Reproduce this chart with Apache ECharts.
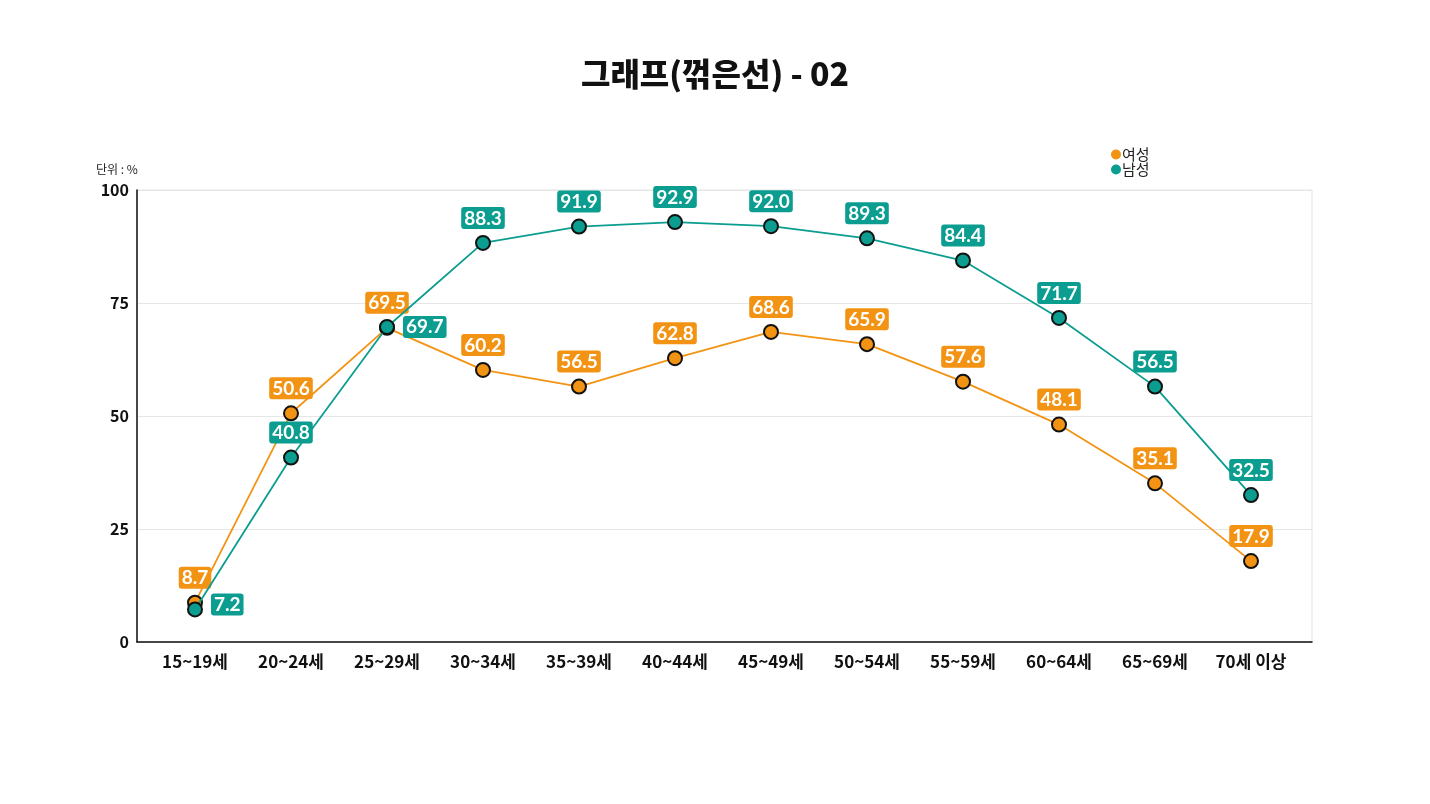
<!DOCTYPE html>
<html><head><meta charset="utf-8">
<script src="https://cdn.jsdelivr.net/npm/echarts@6/dist/echarts.min.js"></script>
<style>html,body{margin:0;padding:0;background:#fff}#c{width:1430px;height:804px}</style>
</head><body><div id="c"></div>
<script>
const categories = ['15~19세','20~24세','25~29세','30~34세','35~39세','40~44세','45~49세','50~54세','55~59세','60~64세','65~69세','70세 이상'];
const female = [8.7, 50.6, 69.5, 60.2, 56.5, 62.8, 68.6, 65.9, 57.6, 48.1, 35.1, 17.9];
const male = [7.2, 40.8, 69.7, 88.3, 91.9, 92.9, 92.0, 89.3, 84.4, 71.7, 56.5, 32.5];
const seriesNames = ['여성','남성'];
const yTicks = [0, 25, 50, 75, 100];

const ORANGE = '#F39313';
const TEAL = '#0A9D90';
const KR = '"Noto Sans CJK KR", "Noto Sans", sans-serif';
const NUM = 'Lato, "Noto Sans", sans-serif';

function labelFor(color) {
  return {
    show: true, position: 'top', distance: 6,
    color: '#fff', fontFamily: NUM, fontWeight: 'bold', fontSize: 19,
    backgroundColor: color, borderRadius: 3, padding: [2, 3, 1, 3],
    formatter: p => p.value.toFixed(1)
  };
}
const maleData = male.map((v, i) => {
  const d = { value: v };
  if (i === 0) d.label = { position: 'right', distance: 8, offset: [0, -5] };
  if (i === 2) d.label = { position: 'right', distance: 8 };
  return d;
});

const chart = echarts.init(document.getElementById('c'));
chart.setOption({
  animation: false,
  title: {
    text: '그래프(꺾은선) - 02', left: 'center', top: 53,
    textStyle: { fontFamily: KR, fontWeight: 900, fontSize: 32, color: '#111' }
  },
  graphic: [{
    type: 'text', left: 96, top: 163,
    style: { text: '단위 : %', font: '12px ' + KR, fill: '#222' }
  }],
  legend: {
    data: seriesNames, orient: 'vertical', left: 1106, top: 142, itemGap: 0,
    icon: 'circle', itemWidth: 10, itemHeight: 10,
    itemStyle: { borderWidth: 0 },
    textStyle: { fontFamily: KR, fontSize: 15, color: '#222', padding: [0, 0, 0, -4] }
  },
  grid: [
    { left: 137, right: 118, top: 190, bottom: 162, show: true, borderColor: '#e2e2e2', borderWidth: 1, backgroundColor: 'transparent' },
    { left: 147, width: 1152, top: 190, bottom: 162 }
  ],
  xAxis: [
    { type: 'category', gridIndex: 0, data: categories, axisLine: { lineStyle: { color: '#111', width: 1.5 } },
      axisTick: { show: false }, axisLabel: { show: false } },
    { type: 'category', gridIndex: 1, data: categories, boundaryGap: true,
      axisLine: { show: false }, axisTick: { show: false },
      axisLabel: { margin: 11, fontFamily: KR, fontWeight: 'bold', fontSize: 17, color: '#111' } }
  ],
  yAxis: [
    { type: 'value', gridIndex: 0, min: 0, max: 100, interval: 25,
      axisLine: { show: true, lineStyle: { color: '#111', width: 1.5 } }, axisTick: { show: false },
      splitLine: { lineStyle: { color: '#e6e6e6' } },
      axisLabel: { margin: 8, fontFamily: KR, fontWeight: 'bold', fontSize: 16, color: '#111',
        formatter: v => yTicks.includes(v) ? String(v) : '' } },
    { type: 'value', gridIndex: 1, min: 0, max: 100, interval: 25, show: false }
  ],
  series: [
    { name: seriesNames[0], type: 'line', xAxisIndex: 1, yAxisIndex: 1, data: female,
      color: ORANGE, lineStyle: { color: ORANGE, width: 1.8 },
      symbol: 'circle', symbolSize: 14,
      itemStyle: { color: ORANGE, borderColor: '#111', borderWidth: 2 },
      label: labelFor(ORANGE), z: 2 },
    { name: seriesNames[1], type: 'line', xAxisIndex: 1, yAxisIndex: 1, data: maleData,
      color: TEAL, lineStyle: { color: TEAL, width: 1.8 },
      symbol: 'circle', symbolSize: 14,
      itemStyle: { color: TEAL, borderColor: '#111', borderWidth: 2 },
      label: labelFor(TEAL), z: 3 }
  ]
});
</script></body></html>
